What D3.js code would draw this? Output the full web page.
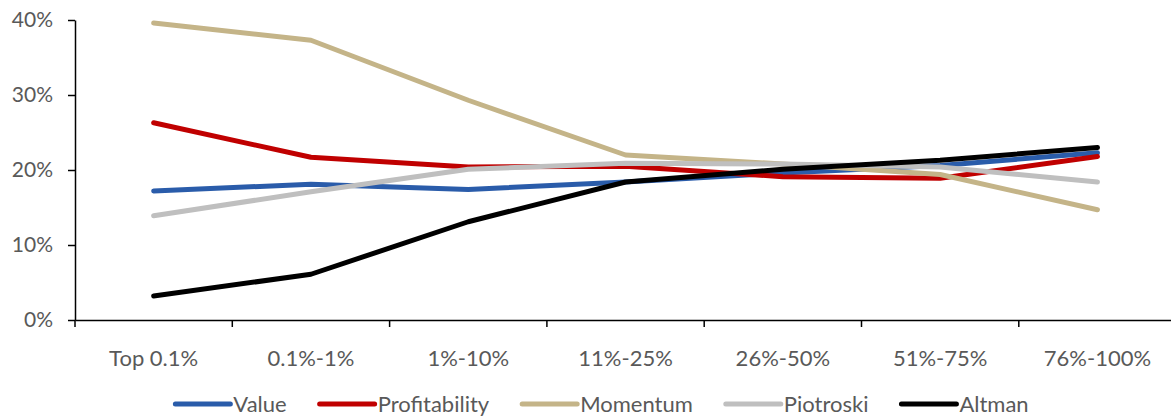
<!DOCTYPE html>
<html lang="en">
<head>
<meta charset="UTF-8">
<title>Factor ranks</title>
<script src="https://d3js.org/d3.v7.min.js"></script>
<style>
  body { margin: 0; background: #fff; }
  text { font-family: Lato, "Liberation Sans", sans-serif; fill: #595959; }
</style>
</head>
<body>
<svg id="chart" width="1171" height="417"></svg>
<script>
// categories along the x axis
const buckets = ["Top 0.1%", "0.1%-1%", "1%-10%", "11%-25%", "26%-50%", "51%-75%", "76%-100%"];

// series values (share, 0-1)
const value         = [0.172, 0.181, 0.174, 0.184, 0.196, 0.206, 0.223];
const profitability = [0.263, 0.217, 0.204, 0.205, 0.191, 0.189, 0.218];
const momentum      = [0.396, 0.373, 0.293, 0.220, 0.208, 0.194, 0.147];
const piotroski     = [0.139, 0.171, 0.201, 0.209, 0.208, 0.204, 0.184];
const altman        = [0.032, 0.061, 0.131, 0.184, 0.201, 0.213, 0.230];

const yTicks = [0, 0.1, 0.2, 0.3, 0.4];

const series = [
  { name: "Value",         values: value,         color: "#2a5caa" },
  { name: "Profitability", values: profitability, color: "#c00000" },
  { name: "Momentum",      values: momentum,      color: "#c4b488" },
  { name: "Piotroski",     values: piotroski,     color: "#bfbfbf" },
  { name: "Altman",        values: altman,        color: "#000000" }
];

const svg = d3.select("#chart");
const margin = { top: 20, left: 75, bottom: 97 };
const height = 417;

const x = d3.scaleBand()
  .domain(buckets)
  .range([margin.left, margin.left + 7 * 157.3]);

const y = d3.scaleLinear()
  .domain([0, 0.4])
  .range([height - margin.bottom, margin.top]);

// y axis
const yAxis = svg.append("g")
  .attr("transform", `translate(${margin.left},0)`)
  .call(d3.axisLeft(y).tickValues(yTicks).tickFormat(d3.format(".0%")).tickSize(7).tickSizeOuter(0));
yAxis.select(".domain").attr("stroke", "#000").attr("stroke-width", 1.5);
yAxis.selectAll(".tick line").attr("stroke", "#000").attr("stroke-width", 1.5);
yAxis.selectAll(".tick text")
  .attr("x", -22)
  .style("font-size", "21px")
  .style("font-family", "Lato, 'Liberation Sans', sans-serif")
  .attr("fill", "#595959");

// x axis with ticks on category boundaries
const xAxis = svg.append("g")
  .attr("transform", `translate(0,${y(0)})`)
  .call(d3.axisBottom(x).tickSize(0).tickSizeOuter(0));
xAxis.select(".domain").attr("stroke", "#000").attr("stroke-width", 1.5);
xAxis.selectAll(".tick text")
  .attr("y", 30)
  .style("font-size", "22px")
  .style("font-family", "Lato, 'Liberation Sans', sans-serif")
  .attr("fill", "#595959");
xAxis.selectAll(".boundary")
  .data(buckets)
  .enter().append("line")
  .attr("class", "boundary")
  .attr("x1", d => x(d))
  .attr("x2", d => x(d))
  .attr("y1", 0)
  .attr("y2", 7)
  .attr("stroke", "#000")
  .attr("stroke-width", 1.5);

// lines
const line = d3.line()
  .x((d, i) => x(buckets[i]) + x.bandwidth() / 2)
  .y(d => y(d));

svg.append("g").selectAll("path")
  .data(series)
  .enter().append("path")
  .attr("d", d => line(d.values))
  .attr("fill", "none")
  .attr("stroke", d => d.color)
  .attr("stroke-width", 5)
  .attr("stroke-linecap", "round")
  .attr("stroke-linejoin", "round");

// legend
const legend = svg.append("g").attr("transform", "translate(0,404)");
const items = legend.selectAll("g")
  .data(series)
  .enter().append("g");
items.append("line")
  .attr("x1", 0).attr("x2", 55)
  .attr("stroke", d => d.color)
  .attr("stroke-width", 5)
  .attr("stroke-linecap", "round");
items.append("text")
  .attr("x", 58)
  .attr("dy", "0.35em")
  .style("font-size", "22px")
  .text(d => d.name);

const widths = [];
items.each(function () {
  widths.push(58 + this.querySelector("text").getComputedTextLength());
});
const gap = 33;
const total = d3.sum(widths) + gap * (widths.length - 1);
let cursor = 602 - total / 2;
items.attr("transform", (d, i) => {
  const t = `translate(${cursor},0)`;
  cursor += widths[i] + gap;
  return t;
});
</script>
</body>
</html>
